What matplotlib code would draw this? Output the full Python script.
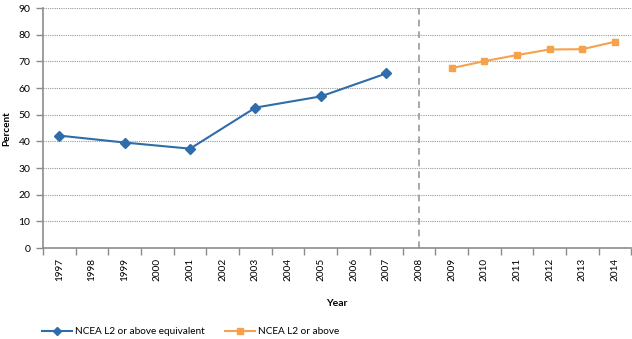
import matplotlib
matplotlib.use("Agg")
import matplotlib.pyplot as plt
import numpy as np

years = [str(y) for y in range(1997, 2015)]
equiv_years = ["1997", "1999", "2001", "2003", "2005", "2007"]
equiv_values = [42.2, 39.6, 37.3, 52.7, 56.9, 65.5]
ncea_years = ["2009", "2010", "2011", "2012", "2013", "2014"]
ncea_values = [67.5, 70.1, 72.4, 74.5, 74.6, 77.4]
break_year = "2008"

blue = "#2F6DAA"
orange = "#F6A24C"
grey = "#8C8C8C"

plt.rcParams["font.family"] = ["Lato", "DejaVu Sans"]

fig = plt.figure(figsize=(6.32, 3.39), dpi=100)
ax = fig.add_axes([0.068, 0.268, 0.931, 0.708])

pos = {y: i for i, y in enumerate(years)}
ax.plot([pos[y] for y in equiv_years], equiv_values, color=blue, lw=1.5,
        marker="D", ms=5, label="NCEA L2 or above equivalent", zorder=3)
ax.plot([pos[y] for y in ncea_years], ncea_values, color=orange, lw=1.5,
        marker="s", ms=5, label="NCEA L2 or above", zorder=3)
ax.axvline(pos[break_year], color="#9A9A9A", lw=1.2, ls=(0, (4, 3)), zorder=2)

ax.set_xlim(-0.5, len(years) - 0.5)
ax.set_ylim(0, 90)
ax.set_yticks(np.arange(0, 91, 10))
ax.yaxis.grid(True, color="#9A9A9A", ls=(0, (1, 1)), lw=0.8)
ax.set_axisbelow(True)

ax.set_xticks(range(len(years)))
ax.set_xticklabels(years, rotation=90, fontsize=7.2)
ax.set_xticks(np.arange(-0.5, len(years), 1), minor=True)
ax.tick_params(axis="x", which="major", length=0, pad=7)
ax.tick_params(axis="x", which="minor", length=5, color=grey, width=1)
ax.tick_params(axis="y", length=5, color=grey, width=1, labelsize=7.5, pad=4)

for s in ("top", "right"):
    ax.spines[s].set_visible(False)
for s in ("left", "bottom"):
    ax.spines[s].set_color(grey)
    ax.spines[s].set_linewidth(1.2)

ax.set_ylabel("Percent", fontsize=7.2, fontweight="bold", labelpad=5)
ax.set_xlabel("Year", fontsize=7.5, fontweight="bold", labelpad=13)

fig.legend(loc="center left", bbox_to_anchor=(42 / 632, 1 - 332 / 339), ncol=2,
           frameon=False, fontsize=7.2, handlelength=3.0, handletextpad=0.3,
           columnspacing=2.0, borderpad=0, borderaxespad=0, markerscale=0.9)

fig.savefig("out.png", dpi=100)
